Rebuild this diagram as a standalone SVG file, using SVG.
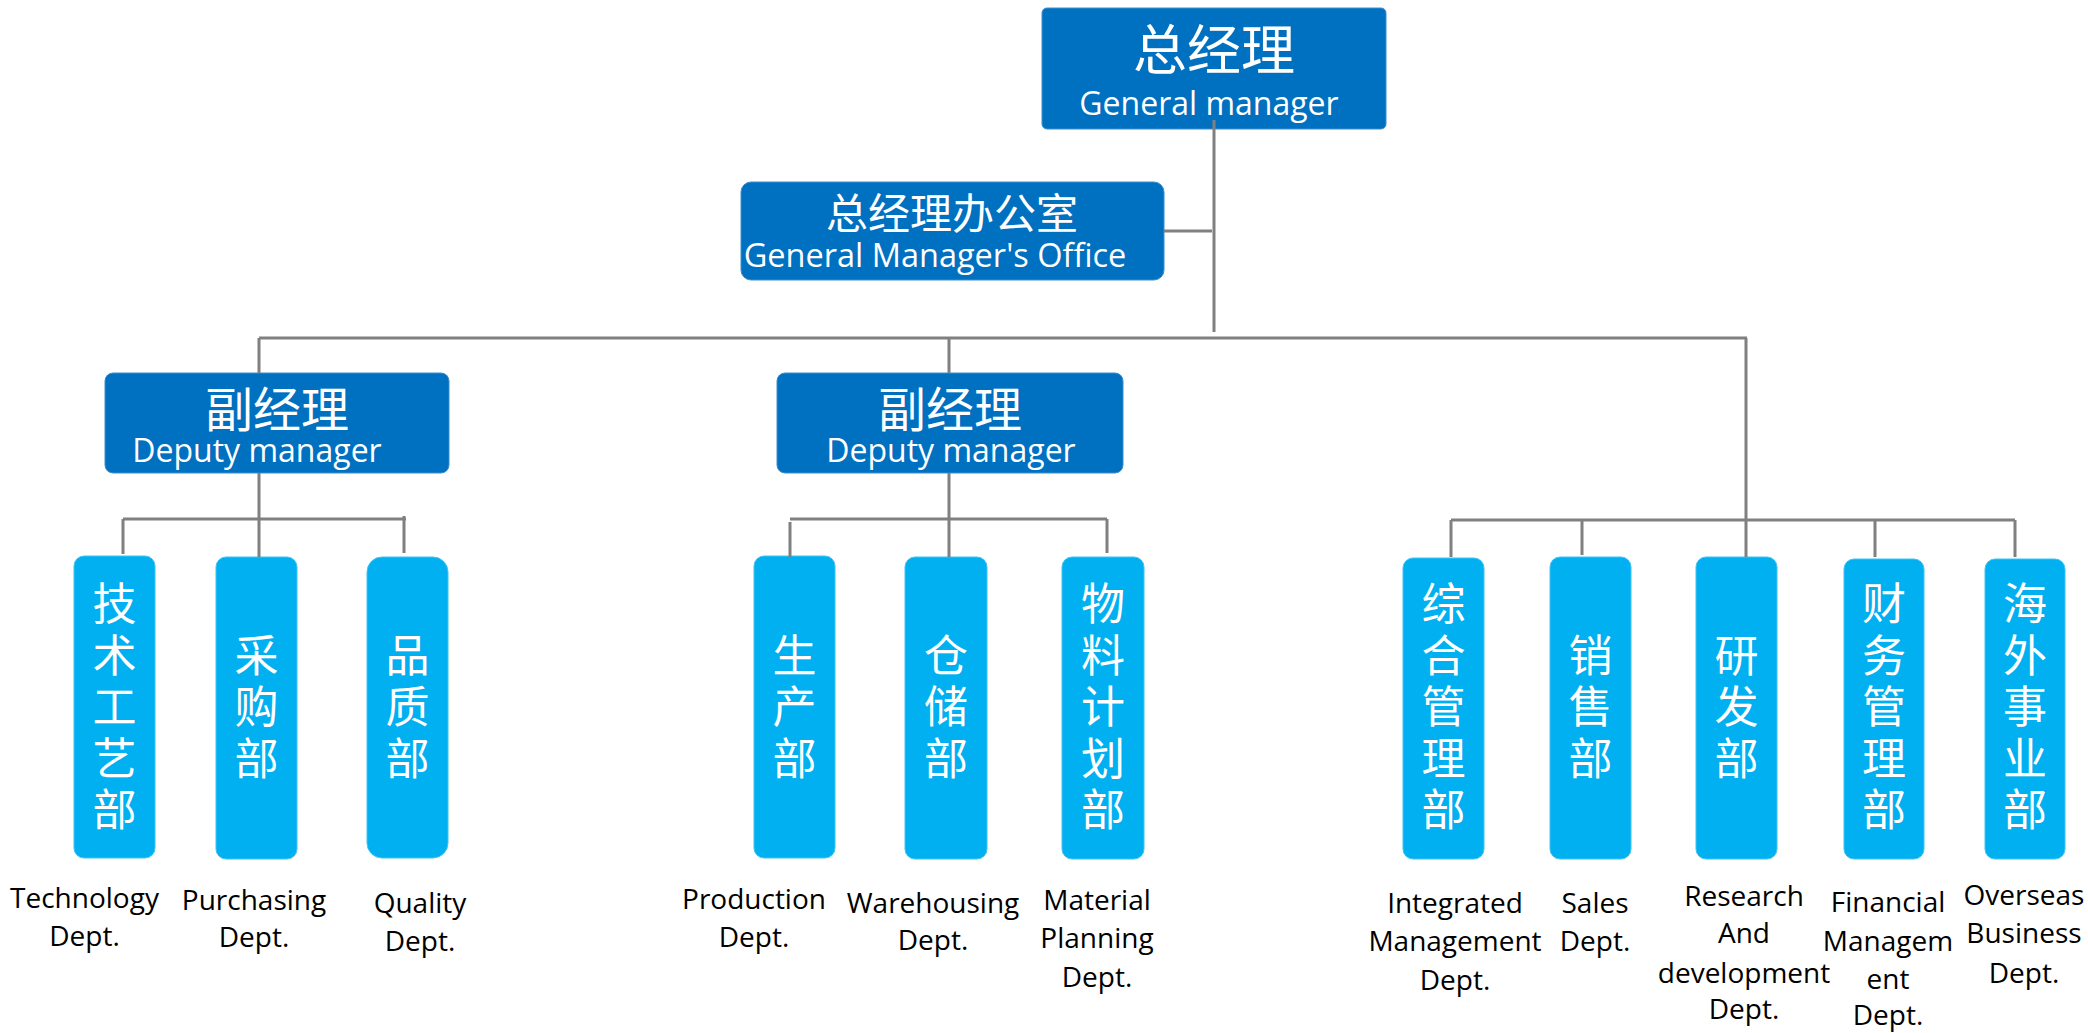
<svg xmlns="http://www.w3.org/2000/svg" width="2088" height="1033" viewBox="0 0 2088 1033">
<style>
.dk{fill:#0070C0;stroke:#3d8fd0;stroke-width:1}
.lt{fill:#00B0F0;stroke:#40c4f4;stroke-width:1}
.t{fill:#fff;text-anchor:middle}
.cn{font-family:"Noto Sans CJK SC","Noto Sans",sans-serif}
.en{font-family:"Open Sans","Noto Sans",sans-serif}
.v{fill:#fff;font-family:"Noto Sans CJK SC",sans-serif;font-size:44px;writing-mode:vertical-rl;letter-spacing:7.5px;dominant-baseline:central}
.lb{fill:#000;font-family:"Open Sans","Noto Sans",sans-serif;font-size:28px;text-anchor:middle}
.ln{stroke:#808080;stroke-width:3;fill:none}
</style>
<rect width="2088" height="1033" fill="#fff"/>
<g id="gm">
<rect class="dk" x="1042" y="8" width="344" height="121" rx="5"/>
<text class="t"><tspan class="cn" x="1214" y="70" font-size="54">总经理</tspan><tspan class="en" x="1209" y="115" font-size="32">General manager</tspan></text>
</g>
<g id="office">
<rect class="dk" x="741" y="182" width="423" height="98" rx="10"/>
<text class="t"><tspan class="cn" x="952" y="229" font-size="42">总经理办公室</tspan><tspan class="en" x="935" y="267" font-size="32.5">General Manager's Office</tspan></text>
</g>
<g id="deputy1">
<rect class="dk" x="105" y="373" width="344" height="100" rx="8"/>
<text class="t"><tspan class="cn" x="277" y="427" font-size="48">副经理</tspan><tspan class="en" x="257" y="462" font-size="32">Deputy manager</tspan></text>
</g>
<g id="deputy2">
<rect class="dk" x="777" y="373" width="346" height="100" rx="8"/>
<text class="t"><tspan class="cn" x="950" y="427" font-size="48">副经理</tspan><tspan class="en" x="951" y="462" font-size="32">Deputy manager</tspan></text>
</g>
<g id="tech">
<rect class="lt" x="74" y="556" width="81" height="302" rx="10"/>
<text class="v" x="114.5" y="581.5">技术工艺部</text>
<text class="lb"><tspan x="84.5" y="908">Technology</tspan><tspan x="84.5" y="946">Dept.</tspan></text>
</g>
<g id="purchasing">
<rect class="lt" x="216" y="557" width="81" height="302" rx="10"/>
<text class="v" x="256.5" y="633">采购部</text>
<text class="lb"><tspan x="254" y="910">Purchasing</tspan><tspan x="254" y="947">Dept.</tspan></text>
</g>
<g id="quality">
<rect class="lt" x="367" y="557" width="81" height="301" rx="15"/>
<text class="v" x="407.5" y="633">品质部</text>
<text class="lb"><tspan x="420" y="913">Quality</tspan><tspan x="420" y="951">Dept.</tspan></text>
</g>
<g id="production">
<rect class="lt" x="754" y="556" width="81" height="302" rx="10"/>
<text class="v" x="794.5" y="633">生产部</text>
<text class="lb"><tspan x="754" y="909">Production</tspan><tspan x="754" y="947">Dept.</tspan></text>
</g>
<g id="warehousing">
<rect class="lt" x="905" y="557" width="82" height="302" rx="10"/>
<text class="v" x="946" y="633">仓储部</text>
<text class="lb"><tspan x="933" y="913">Warehousing</tspan><tspan x="933" y="950">Dept.</tspan></text>
</g>
<g id="material">
<rect class="lt" x="1062" y="557" width="82" height="302" rx="10"/>
<text class="v" x="1103" y="581.5">物料计划部</text>
<text class="lb"><tspan x="1097" y="910">Material</tspan><tspan x="1097" y="948">Planning</tspan><tspan x="1097" y="987">Dept.</tspan></text>
</g>
<g id="integrated">
<rect class="lt" x="1403" y="558" width="81" height="301" rx="10"/>
<text class="v" x="1443.5" y="581.5">综合管理部</text>
<text class="lb"><tspan x="1455" y="913">Integrated</tspan><tspan x="1455" y="951">Management</tspan><tspan x="1455" y="990">Dept.</tspan></text>
</g>
<g id="sales">
<rect class="lt" x="1550" y="557" width="81" height="302" rx="10"/>
<text class="v" x="1590.5" y="633">销售部</text>
<text class="lb"><tspan x="1595" y="913">Sales</tspan><tspan x="1595" y="951">Dept.</tspan></text>
</g>
<g id="rnd">
<rect class="lt" x="1696" y="557" width="81" height="302" rx="10"/>
<text class="v" x="1736.5" y="633">研发部</text>
<text class="lb"><tspan x="1744" y="906">Research</tspan><tspan x="1744" y="943">And</tspan><tspan x="1744" y="983">development</tspan><tspan x="1744" y="1019">Dept.</tspan></text>
</g>
<g id="financial">
<rect class="lt" x="1844" y="559" width="80" height="300" rx="10"/>
<text class="v" x="1884" y="581.5">财务管理部</text>
<text class="lb"><tspan x="1888" y="912">Financial</tspan><tspan x="1888" y="951">Managem</tspan><tspan x="1888" y="989">ent</tspan><tspan x="1888" y="1025">Dept.</tspan></text>
</g>
<g id="overseas">
<rect class="lt" x="1985" y="559" width="80" height="300" rx="10"/>
<text class="v" x="2025" y="581.5">海外事业部</text>
<text class="lb"><tspan x="2024" y="905">Overseas</tspan><tspan x="2024" y="943">Business</tspan><tspan x="2024" y="983">Dept.</tspan></text>
</g>
<g id="connectors" class="ln">
<path d="M1214 120V332"/>
<path d="M1164 231H1212"/>
<path d="M259 338H1747"/>
<path d="M259 338V373M949 338V373"/>
<path d="M259 473V557M123 519H406M123 519V554M404 516V553"/>
<path d="M949 473V557M790 519H1107M790 522V557M1107 519V553"/>
<path d="M1746 338V557M1451 520H2015M1451 520V557M1582 520V555M1875 520V557M2015 520V557"/>
</g>
</svg>
